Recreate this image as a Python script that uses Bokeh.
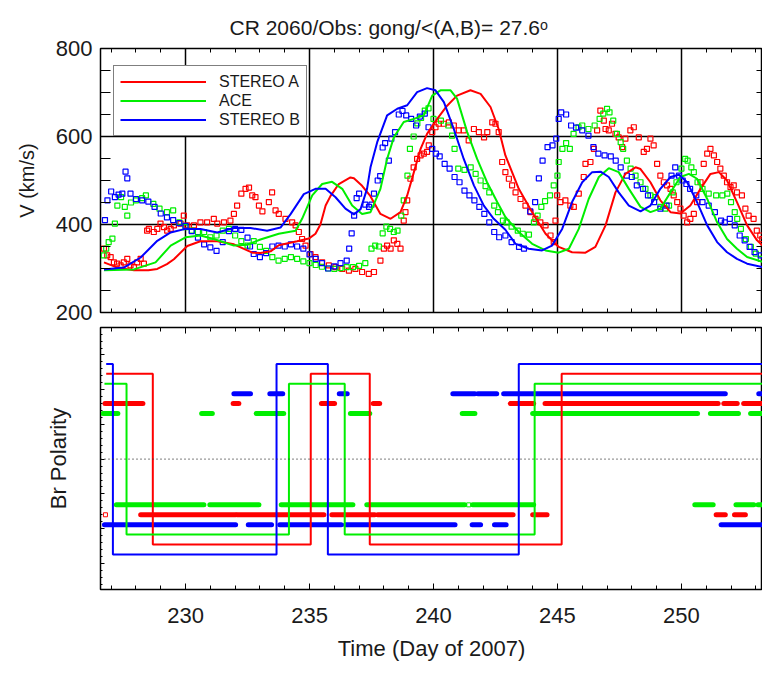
from bokeh.plotting import figure
from bokeh.models import (Range1d, LinearAxis, SingleIntervalTicker, FixedTicker,
                          Legend, LegendItem, Span, Title)
from bokeh.layouts import column
from bokeh.embed import file_html
from bokeh.resources import INLINE

# ---------------- data ----------------
x_start, x_end = 226.57, 253.27

# observed solar wind speed (km/s)
a_obs_day = [226.71, 226.84, 226.98, 227.11, 227.24, 227.38, 227.51, 227.65, 227.78, 227.92, 228.05, 228.19,
             228.32, 228.45, 228.52, 228.72, 228.86, 228.99, 229.13, 229.26, 229.40, 229.53, 229.80, 229.93,
             230.07, 230.34, 230.60, 230.87, 231.14, 231.28, 231.55, 231.81, 231.95, 232.08, 232.25, 232.42,
             232.56, 232.69, 232.82, 232.96, 233.10, 233.36, 233.49, 233.63, 233.76, 234.03, 234.30, 234.44,
             234.57, 234.70, 234.84, 235.04, 235.24, 235.51, 235.78, 236.05, 236.32, 236.59, 236.85, 237.12,
             237.39, 237.60, 237.86, 238.00, 238.13, 238.27, 238.40, 238.54, 238.67, 238.80, 238.87, 238.94,
             239.07, 239.20, 239.34, 239.48, 239.61, 239.74, 239.81, 239.95, 240.08, 240.21, 240.42, 240.62,
             240.82, 241.02, 241.22, 241.42, 241.63, 241.83, 242.04, 242.17, 242.37, 242.50, 242.63, 242.77,
             242.90, 243.04, 243.17, 243.31, 243.51, 243.71, 243.91, 244.11, 244.31, 244.52, 244.72, 244.85,
             244.92, 244.99, 245.12, 245.32, 245.52, 245.66, 245.86, 246.06, 246.13, 246.33, 246.47, 246.60,
             246.73, 246.87, 246.94, 247.07, 247.20, 247.34, 247.47, 247.61, 247.74, 247.94, 248.08, 248.28,
             248.48, 248.61, 248.75, 248.88, 249.02, 249.15, 249.29, 249.42, 249.56, 249.69, 249.83, 249.96,
             250.09, 250.23, 250.36, 250.50, 250.63, 250.77, 250.90, 251.04, 251.17, 251.31, 251.44, 251.57,
             251.71, 251.84, 251.98, 252.11, 252.24, 252.44, 252.58, 252.71, 252.91, 253.04, 253.18, 253.26]
a_obs_v = [345, 330, 326, 314, 311, 307, 314, 322, 307, 303, 314, 322,
           311, 386, 390, 383, 390, 402, 394, 386, 390, 398, 402, 420,
           398, 398, 405, 405, 413, 402, 405, 409, 424, 443, 470, 481,
           484, 466, 462, 443, 430, 451, 473, 432, 424, 413, 405, 398,
           383, 367, 352, 333, 326, 314, 307, 303, 299, 295, 299, 292,
           288, 292, 318, 345, 352, 345, 364, 356, 345, 409, 428, 455,
           504, 530, 549, 557, 561, 565, 580, 610, 621, 629, 629, 632,
           625, 614, 614, 591, 617, 610, 598, 610, 632, 629, 610, 542,
           519, 504, 489, 473, 458, 443, 428, 413, 405, 398, 375, 360,
           409, 466, 451, 455, 443, 440, 470, 508, 538, 542, 572, 614,
           659, 636, 617, 614, 629, 606, 598, 576, 595, 614, 621, 598,
           565, 572, 595, 580, 538, 511, 496, 489, 481, 466, 451, 436,
           420, 405, 413, 424, 451, 496, 538, 561, 572, 557, 542, 527,
           511, 496, 485, 489, 473, 466, 436, 420, 413, 386, 375, 367]

ace_obs_day = [226.70, 226.80, 226.90, 227.05, 227.15, 227.25, 227.40, 227.55, 227.65, 227.80, 228.00, 228.25,
               228.40, 228.70, 228.95, 229.25, 229.50, 229.75, 230.00, 230.25, 230.50, 230.75, 231.00, 231.25,
               231.50, 231.75, 232.00, 232.25, 232.50, 232.75, 233.00, 233.25, 233.50, 233.75, 234.00, 234.25,
               234.50, 234.75, 235.00, 235.25, 235.50, 235.75, 236.00, 236.25, 236.50, 236.75, 237.00, 237.25,
               237.50, 237.65, 237.80, 237.95, 238.10, 238.25, 238.40, 238.55, 238.70, 238.80, 238.95, 239.05,
               239.20, 239.35, 239.50, 239.65, 239.80, 240.00, 240.30, 240.60, 240.75, 240.85, 241.00, 241.25,
               241.50, 241.70, 241.90, 242.10, 242.25, 242.45, 242.60, 242.80, 242.95, 243.15, 243.40, 243.60,
               243.85, 244.05, 244.20, 244.35, 244.50, 244.70, 244.85, 245.00, 245.05, 245.20, 245.35, 245.50,
               245.65, 245.85, 246.00, 246.25, 246.50, 246.70, 246.85, 247.00, 247.10, 247.25, 247.40, 247.55,
               247.65, 247.80, 247.95, 248.15, 248.35, 248.55, 248.75, 248.95, 249.15, 249.35, 249.50, 249.65,
               249.80, 250.00, 250.15, 250.25, 250.40, 250.50, 250.65, 250.85, 251.10, 251.40, 251.65, 251.85,
               252.00, 252.15, 252.25, 252.40, 252.60, 252.80, 253.00, 253.20]
ace_obs_v = [330, 345, 360, 368, 402, 443, 462, 440, 420, 450, 455, 460,
             466, 447, 436, 428, 432, 405, 394, 386, 383, 383, 371, 375,
             386, 390, 375, 362, 352, 362, 349, 340, 326, 318, 322, 326,
             322, 316, 312, 308, 304, 300, 299, 301, 303, 303, 306, 312,
             345, 352, 350, 380, 395, 390, 383, 386, 420, 455, 511, 572,
             600, 630, 642, 659, 664, 640, 636, 625, 602, 572, 527, 524,
             530, 515, 500, 487, 473, 443, 428, 409, 405, 395, 386, 379,
             377, 405, 420, 440, 453, 466, 489, 511, 542, 572, 585, 572,
             606, 621, 625, 617, 625, 640, 652, 663, 655, 636, 606, 587,
             572, 545, 527, 511, 496, 481, 466, 462, 440, 436, 443, 473,
             496, 527, 549, 545, 530, 519, 496, 481, 470, 466, 466, 470,
             451, 428, 413, 390, 367, 349, 334, 322]

b_obs_day = [226.75, 226.85, 227.00, 227.15, 227.30, 227.45, 227.58, 227.65, 227.78, 228.00, 228.25, 228.50,
             228.75, 229.00, 229.25, 229.50, 229.75, 230.00, 230.25, 230.50, 230.75, 231.00, 231.25, 231.50,
             231.75, 232.00, 232.25, 232.50, 232.60, 232.75, 233.00, 233.25, 233.50, 233.75, 234.00, 234.25,
             234.50, 234.75, 235.00, 235.25, 235.50, 235.75, 236.00, 236.25, 236.50, 236.60, 236.70, 236.80,
             236.90, 237.00, 237.25, 237.40, 237.50, 237.60, 237.75, 237.85, 237.95, 238.05, 238.20, 238.30,
             238.45, 238.60, 238.75, 238.90, 239.10, 239.30, 239.45, 239.65, 239.80, 239.95, 240.10, 240.25,
             240.45, 240.65, 240.85, 241.05, 241.25, 241.45, 241.65, 241.85, 242.05, 242.25, 242.45, 242.65,
             242.90, 243.15, 243.45, 243.65, 243.90, 244.10, 244.25, 244.40, 244.60, 244.80, 244.95, 245.05,
             245.15, 245.35, 245.55, 245.75, 246.00, 246.25, 246.45, 246.65, 246.90, 247.15, 247.35, 247.55,
             247.80, 248.00, 248.20, 248.45, 248.65, 248.90, 249.15, 249.40, 249.60, 249.75, 249.90, 250.05,
             250.20, 250.35, 250.60, 250.85, 251.10, 251.35, 251.60, 251.75, 251.95, 252.15, 252.35, 252.55,
             252.75, 252.95, 253.20]
b_obs_v = [410, 455, 475, 462, 468, 470, 520, 505, 470, 458, 455, 452,
           440, 425, 416, 410, 403, 397, 385, 370, 355, 348, 340, 360,
           385, 390, 388, 370, 350, 333, 326, 335, 350, 352, 350, 355,
           350, 345, 332, 322, 312, 300, 305, 312, 318, 345, 380, 420,
           460, 470, 445, 440, 445, 470, 500, 510, 575, 585, 545, 595,
           610, 650, 658, 648, 640, 625, 645, 652, 621, 572, 561, 555,
           538, 527, 508, 496, 477, 466, 455, 440, 424, 405, 383, 371,
           375, 360, 349, 345, 430, 451, 505, 545, 576, 580, 595, 640,
           655, 650, 625, 620, 614, 602, 576, 561, 557, 555, 545, 530,
           511, 508, 489, 481, 466, 451, 436, 443, 511, 530, 511, 500,
           492, 481, 466, 451, 443, 428, 409, 405, 413, 398, 375, 364,
           349, 337, 330]

# model solar wind speed (km/s)
a_mod_day = [226.71, 227.25, 227.92, 228.50, 228.86, 229.25, 229.53, 230.07, 230.60, 231.28, 231.95, 232.49,
             232.69, 233.02, 233.43, 233.76, 234.50, 234.97, 235.24, 235.44, 235.65, 235.85, 236.18, 236.65,
             236.79, 237.12, 237.45, 237.73, 237.86, 238.27, 238.67, 238.94, 239.21, 239.48, 239.74, 240.15,
             240.55, 240.95, 241.49, 241.90, 242.30, 242.63, 242.90, 243.44, 243.98, 244.52, 245.05, 245.59,
             246.13, 246.53, 246.94, 247.34, 247.74, 248.15, 248.35, 248.75, 249.15, 249.56, 249.96, 250.36,
             250.77, 251.17, 251.51, 251.84, 252.24, 252.65, 253.05, 253.27]
a_mod_v = [314, 302, 296, 296, 299, 310, 321, 351, 362, 362, 355, 341,
           336, 335, 339, 353, 362, 368, 379, 400, 443, 465, 492, 507,
           505, 488, 465, 437, 424, 413, 428, 466, 519, 572, 606, 640,
           670, 693, 705, 697, 667, 617, 557, 481, 428, 379, 349, 337,
           336, 349, 398, 473, 515, 530, 526, 496, 455, 428, 425, 443,
           481, 515, 519, 500, 451, 398, 364, 352]

ace_mod_day = [226.71, 227.51, 227.92, 228.79, 229.40, 230.00, 230.60, 231.14, 231.95, 232.49, 233.02, 233.76,
               234.44, 234.70, 235.11, 235.51, 235.91, 236.32, 236.72, 237.12, 237.46, 237.86, 238.13, 238.40,
               238.80, 239.21, 239.61, 239.95, 240.28, 240.69, 240.95, 241.36, 241.76, 242.16, 242.57, 242.90,
               243.44, 243.98, 244.52, 245.05, 245.46, 245.86, 246.26, 246.67, 247.07, 247.47, 247.88, 248.35,
               248.75, 249.15, 249.56, 249.96, 250.30, 250.63, 251.04, 251.44, 251.84, 252.24, 252.65, 253.27]
ace_mod_v = [296, 297, 298, 314, 352, 371, 375, 367, 352, 354, 366, 379,
             386, 413, 466, 492, 497, 481, 443, 424, 428, 481, 549, 598,
             633, 640, 648, 693, 705, 705, 686, 610, 549, 496, 451, 417,
             383, 356, 341, 336, 345, 390, 458, 508, 528, 519, 481, 440,
             428, 436, 473, 508, 515, 504, 458, 405, 367, 345, 326, 315]

b_mod_day = [226.71, 227.51, 228.19, 228.86, 229.40, 230.00, 230.60, 231.28, 231.95, 232.62, 233.29, 233.83,
             234.23, 234.77, 235.24, 235.65, 236.05, 236.45, 236.79, 237.06, 237.32, 237.46, 237.73, 238.13,
             238.54, 238.94, 239.34, 239.74, 240.08, 240.42, 240.82, 241.22, 241.63, 242.03, 242.43, 242.90,
             243.31, 243.84, 244.38, 244.78, 245.19, 245.59, 246.00, 246.40, 246.74, 247.07, 247.47, 247.88,
             248.35, 248.75, 249.15, 249.56, 249.90, 250.23, 250.63, 251.04, 251.44, 251.84, 252.24, 252.65,
             253.27]
b_mod_v = [298, 302, 325, 363, 382, 390, 390, 382, 392, 392, 386, 393,
           423, 469, 481, 481, 462, 436, 423, 435, 481, 530, 587, 648,
           663, 671, 701, 710, 705, 678, 617, 549, 489, 443, 413, 388,
           356, 345, 341, 352, 390, 451, 496, 519, 520, 508, 473, 443,
           430, 443, 481, 508, 513, 496, 451, 398, 360, 337, 322, 311,
           303]

# model Br polarity: days where the sign changes, and the sign from that day on
a_pol_day = [226.80, 228.68, 235.05, 237.43, 245.17]
a_pol_sign = [1, -1, 1, -1, 1]
ace_pol_day = [226.73, 227.62, 234.17, 236.42, 244.08]
ace_pol_sign = [1, -1, 1, -1, 1]
b_pol_day = [226.80, 227.07, 233.67, 235.74, 243.44]
b_pol_sign = [1, -1, 1, -1, 1]

# observed Br polarity: (start day, end day) intervals
a_obs_pos = [(226.75, 228.28), (231.92, 232.15), (235.48, 236.01), (237.57, 237.83), (243.10, 244.04),
             (244.50, 251.48), (251.71, 252.25), (252.51, 253.40)]
a_obs_neg = [(228.19, 232.02), (232.08, 235.58), (235.90, 237.63), (237.75, 243.21), (244.00, 244.58),
             (251.40, 251.77), (252.14, 252.58)]
ace_obs_pos = [(226.67, 227.27), (230.65, 231.08), (232.85, 233.96), (236.65, 237.43), (241.16, 241.67),
               (244.00, 250.65), (251.17, 252.30), (252.79, 253.40)]
ace_obs_neg = [(227.21, 230.74), (230.98, 232.96), (233.86, 236.75), (237.31, 241.26), (241.58, 244.04),
               (250.54, 251.28), (252.20, 252.92), (253.09, 253.40)]
b_obs_pos = [(231.95, 232.62), (233.40, 233.92), (236.20, 236.52), (240.78, 241.67), (241.79, 242.55),
             (242.83, 251.77), (253.12, 253.40)]
b_obs_neg = [(226.73, 232.02), (232.53, 233.47), (233.80, 236.28), (236.45, 240.87), (241.56, 241.90),
             (242.46, 242.93), (251.60, 253.40)]
a_obs_single_neg = [226.77]
ace_obs_single_neg = [241.42]

# ---------------- styling ----------------
FONT = "Liberation Sans"
RED, GREEN, BLUE = "#ff0000", "#00ee00", "#0000ff"
TXT = "#1a1a1a"
# vertical offsets used to separate the three spacecraft in the polarity panel
MOD_LEV = {"a": 0.86, "ace": 0.76, "b": 0.96}
OBS_LEV = {"a": 0.56, "ace": 0.46, "b": 0.66}


def hide_labels(ax):
    ax.major_label_text_font_size = "0px"
    ax.major_label_text_color = None
    ax.major_label_standoff = 0


def style_x(ax, labels):
    ax.ticker = SingleIntervalTicker(interval=5, num_minor_ticks=5)
    ax.major_tick_in = 6
    ax.major_tick_out = 0
    ax.minor_tick_in = 4
    ax.minor_tick_out = 0
    ax.axis_line_color = "black"
    ax.major_tick_line_color = "black"
    ax.minor_tick_line_color = "black"
    if labels:
        ax.major_label_text_font = FONT
        ax.major_label_text_font_size = "22px"
        ax.major_label_text_color = TXT
        ax.major_label_standoff = 18
    else:
        hide_labels(ax)


# ---------------- top panel: speed ----------------
p1 = figure(width=762, height=325, x_range=Range1d(x_start, x_end), y_range=Range1d(200, 800),
            output_backend="svg", toolbar_location=None,
            min_border_left=100, min_border_right=0, min_border_top=48, min_border_bottom=13)
p1.outline_line_color = "black"
p1.outline_line_width = 1.5
p1.background_fill_color = "white"

style_x(p1.xaxis[0], False)
top_ax = LinearAxis()
style_x(top_ax, False)
p1.add_layout(top_ax, "above")

yl = p1.yaxis[0]
yl.ticker = SingleIntervalTicker(interval=200, num_minor_ticks=4)
yl.major_tick_in = 11
yl.major_tick_out = 0
yl.minor_tick_in = 10
yl.minor_tick_out = 0
yl.major_label_text_font = FONT
yl.major_label_text_font_size = "22px"
yl.major_label_text_color = TXT
yl.major_label_standoff = 8
yl.axis_label = "V (km/s)"
yl.axis_label_text_font = FONT
yl.axis_label_text_font_size = "20px"
yl.axis_label_text_font_style = "normal"
yl.axis_label_text_color = TXT
yl.axis_label_standoff = 15

yr = LinearAxis(ticker=SingleIntervalTicker(interval=200, num_minor_ticks=4))
yr.major_tick_in = 8
yr.major_tick_out = 0
yr.minor_tick_in = 6
yr.minor_tick_out = 0
hide_labels(yr)
p1.add_layout(yr, "right")

p1.xgrid.ticker = SingleIntervalTicker(interval=5)
p1.ygrid.ticker = FixedTicker(ticks=[400, 600])
for g in (p1.xgrid[0], p1.ygrid[0]):
    g.grid_line_color = "black"
    g.grid_line_width = 1.5
    g.grid_line_alpha = 1.0

for d, v, c in ((a_obs_day, a_obs_v, RED), (ace_obs_day, ace_obs_v, GREEN), (b_obs_day, b_obs_v, BLUE)):
    p1.scatter(d, v, marker="square", size=5, fill_color=None, line_color=c, line_width=1.2)

rA = p1.line(a_mod_day, a_mod_v, line_color=RED, line_width=2)
rC = p1.line(ace_mod_day, ace_mod_v, line_color=GREEN, line_width=2)
rB = p1.line(b_mod_day, b_mod_v, line_color=BLUE, line_width=2)

legend = Legend(items=[LegendItem(label="STEREO A", renderers=[rA]),
                       LegendItem(label="ACE", renderers=[rC]),
                       LegendItem(label="STEREO B", renderers=[rB])],
                location=(13, 176), margin=0, padding=6, spacing=0,
                label_height=19, glyph_height=19, glyph_width=86, label_standoff=13,
                label_text_font=FONT, label_text_font_size="16px", label_text_color=TXT,
                border_line_color="black", border_line_width=1.2,
                background_fill_color="white", background_fill_alpha=1.0)
p1.add_layout(legend, "center")

title = Title(text="CR 2060/Obs: gong/<(A,B)= 27.6\u1d52", align="left", offset=129, standoff=19,
              text_font=FONT, text_font_size="21px", text_font_style="normal", text_color=TXT)
p1.add_layout(title, "above")

# ---------------- bottom panel: polarity ----------------
p2 = figure(width=762, height=346, x_range=p1.x_range, y_range=Range1d(-1.313, 1.327),
            output_backend="svg", toolbar_location=None,
            min_border_left=100, min_border_right=0, min_border_top=2, min_border_bottom=82)
p2.outline_line_color = "black"
p2.outline_line_width = 1.5
p2.grid.visible = False

xb = p2.xaxis[0]
style_x(xb, True)
xb.axis_label = "Time (Day of 2007)"
xb.axis_label_text_font = FONT
xb.axis_label_text_font_size = "22px"
xb.axis_label_text_font_style = "normal"
xb.axis_label_text_color = TXT
xb.axis_label_standoff = 10
top2 = LinearAxis()
style_x(top2, False)
p2.add_layout(top2, "above")

y2 = p2.yaxis[0]
y2.ticker = SingleIntervalTicker(interval=0.35, num_minor_ticks=5)
y2.major_tick_in = 4
y2.major_tick_out = 0
y2.minor_tick_in = 2
y2.minor_tick_out = 0
hide_labels(y2)
y2.axis_label = "Br Polarity"
y2.axis_label_text_font = FONT
y2.axis_label_text_font_size = "22px"
y2.axis_label_text_font_style = "normal"
y2.axis_label_text_color = TXT
y2.axis_label_standoff = 30

p2.add_layout(Span(location=0, dimension="width", line_color="#333333", line_width=1.3, line_dash="1 3"))

for key, pos, neg, c in (("a", a_obs_pos, a_obs_neg, RED), ("ace", ace_obs_pos, ace_obs_neg, GREEN),
                         ("b", b_obs_pos, b_obs_neg, BLUE)):
    lev = OBS_LEV[key]
    p2.segment([s for s, e in pos], [lev] * len(pos), [e for s, e in pos], [lev] * len(pos),
               line_color=c, line_width=5, line_cap="round")
    p2.segment([s for s, e in neg], [-lev] * len(neg), [e for s, e in neg], [-lev] * len(neg),
               line_color=c, line_width=5, line_cap="round")

p2.scatter(a_obs_single_neg, [-OBS_LEV["a"]] * len(a_obs_single_neg), marker="square", size=4,
           fill_color=None, line_color=RED)
p2.scatter(ace_obs_single_neg, [-OBS_LEV["ace"]] * len(ace_obs_single_neg), marker="square", size=4,
           fill_color=None, line_color=GREEN)

for key, days, signs, c in (("a", a_pol_day, a_pol_sign, RED), ("ace", ace_pol_day, ace_pol_sign, GREEN),
                            ("b", b_pol_day, b_pol_sign, BLUE)):
    lev = MOD_LEV[key]
    xs = list(days) + [x_end + 1]
    ys = [s * lev for s in signs] + [signs[-1] * lev]
    p2.step(xs, ys, mode="after", line_color=c, line_width=2)

layout = column(p1, p2)
open("out.html", "w").write(file_html(layout, INLINE))
